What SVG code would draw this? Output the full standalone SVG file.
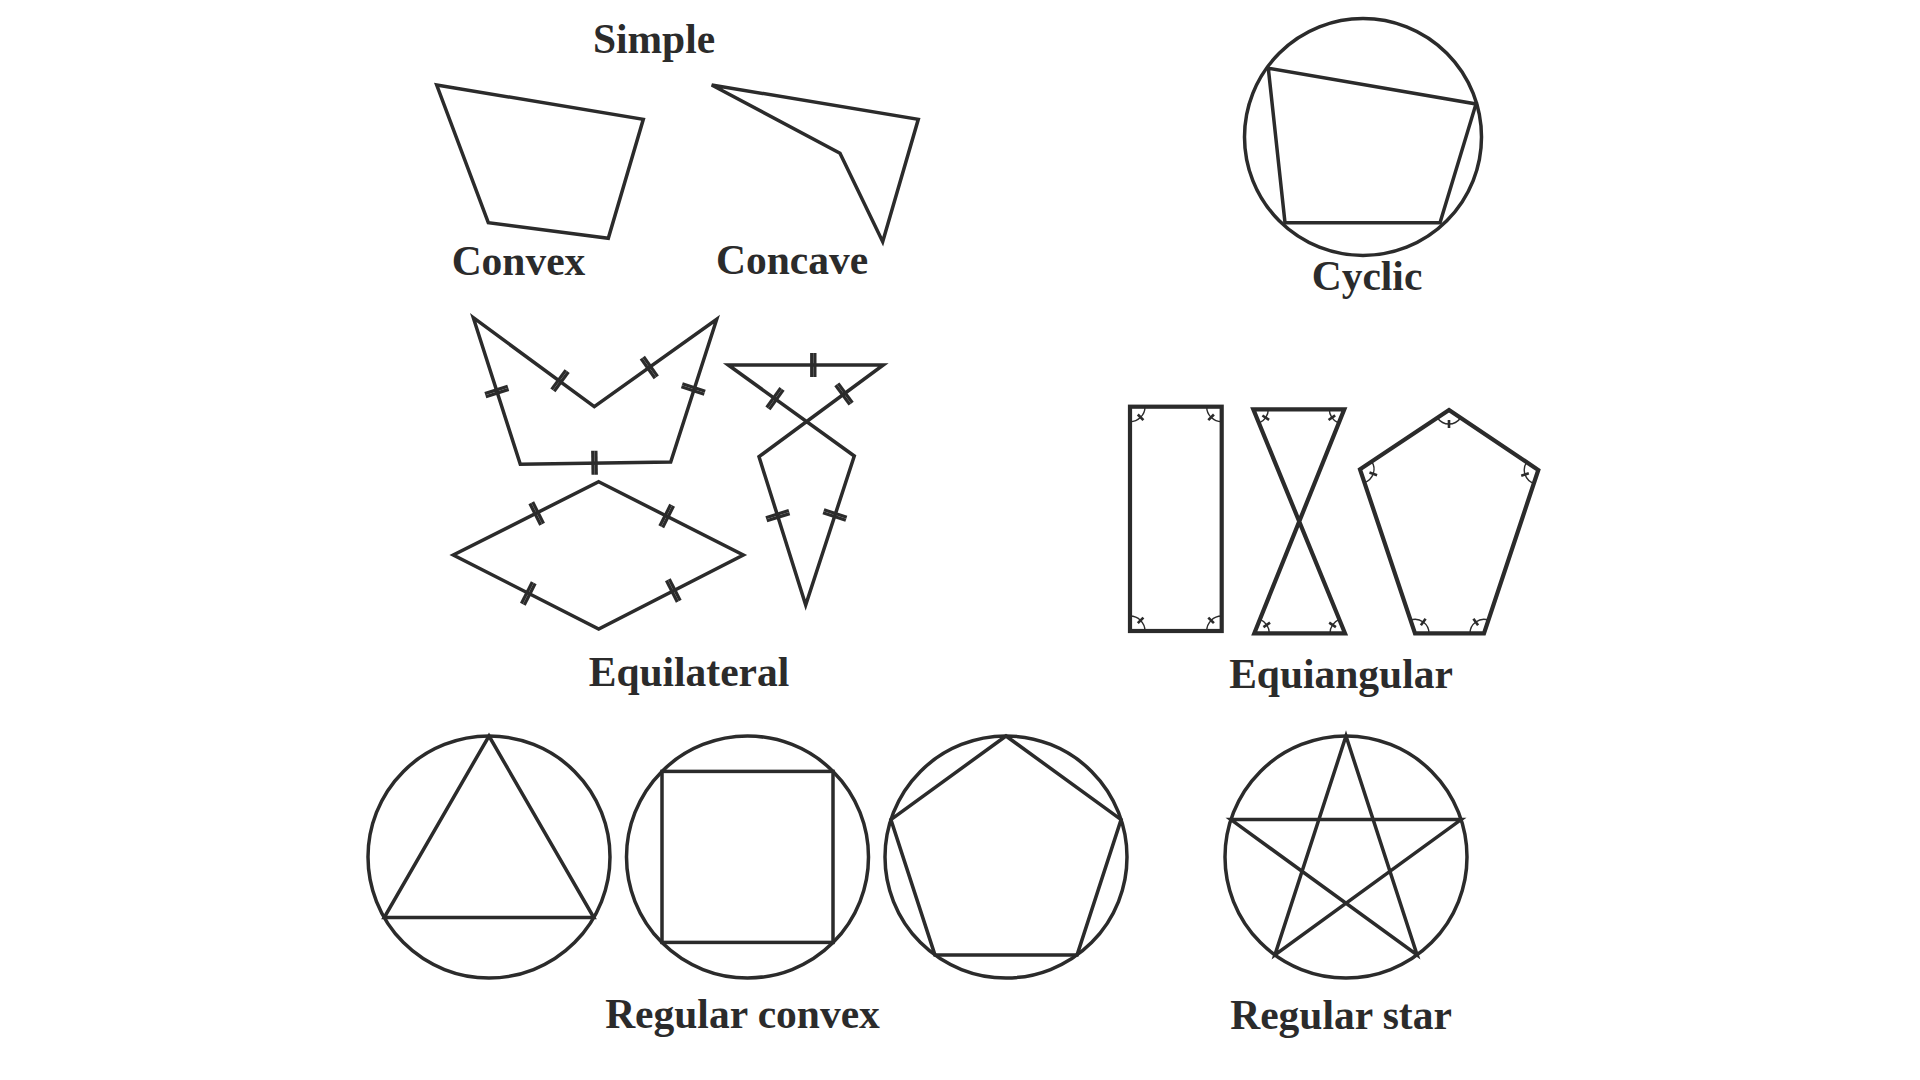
<svg xmlns="http://www.w3.org/2000/svg" xmlns:xlink="http://www.w3.org/1999/xlink" width="1920" height="1080" viewBox="0 0 1920 1080">
<style>
.s{fill:none;stroke:#2b2b2b;stroke-width:3.5;stroke-linejoin:miter}
.t{fill:none;stroke:#2b2b2b;stroke-width:4.2;stroke-linejoin:miter}
.lbl{font-family:"Liberation Serif","Times New Roman",serif;font-weight:bold;font-size:41.5px;fill:#2b2b2b;text-anchor:middle}
.tk{stroke:#2b2b2b;stroke-width:3.2;fill:none}
.am{fill:none;stroke:#2b2b2b;stroke-width:1.4}
.at{fill:none;stroke:#2b2b2b;stroke-width:2.6}
</style>
<defs>
<g id="tick"><line class="tk" x1="-1.6" y1="-12" x2="-1.6" y2="12"/><line class="tk" x1="1.6" y1="-12" x2="1.6" y2="12"/></g>
<g id="m90"><path class="am" d="M15,0 A15,15 0 0 1 0,15"/><line class="at" x1="7.8" y1="7.8" x2="13.4" y2="13.4"/></g>
<g id="m68"><path class="am" d="M15,0 A15,15 0 0 1 5.62,13.91"/><line class="at" x1="9.1" y1="6.2" x2="15.8" y2="10.6"/></g>
<g id="m108"><path class="am" d="M14,0 A14,14 0 0 1 -4.33,13.31"/><line class="at" x1="5.9" y1="8.1" x2="10.6" y2="14.6"/></g>
</defs>
<rect width="1920" height="1080" fill="#ffffff"/>

<g id="label-simple"><text class="lbl" x="654" y="53">Simple</text></g>

<g id="convex">
<polygon class="s" points="436.7,85 643.3,119.3 608.3,238.3 488.3,222.7"/>
<text class="lbl" x="518.5" y="275">Convex</text>
</g>

<g id="concave">
<polygon class="s" points="711.7,85 918.3,119.3 882.7,241.7 840,153.3"/>
<text class="lbl" x="792" y="274">Concave</text>
</g>

<g id="cyclic">
<circle class="s" cx="1363" cy="137" r="118.5"/>
<polygon class="s" points="1268.3,68.3 1476,104 1440,222.7 1285,222.7"/>
<text class="lbl" x="1367" y="290">Cyclic</text>
</g>

<g id="equilateral-hexagon">
<polygon class="s" points="473.3,317.7 594.3,406.7 716.7,319.3 670.7,462 520.3,464.3"/>
<use xlink:href="#tick" href="#tick" transform="translate(560,380.7) rotate(36.3)"/>
<use xlink:href="#tick" href="#tick" transform="translate(649.3,367.5) rotate(-35.5)"/>
<use xlink:href="#tick" href="#tick" transform="translate(693.3,389) rotate(107.9)"/>
<use xlink:href="#tick" href="#tick" transform="translate(496.8,391.5) rotate(72.2)"/>
<use xlink:href="#tick" href="#tick" transform="translate(594.5,462.8) rotate(-0.9)"/>
</g>

<g id="equilateral-rhombus">
<polygon class="s" points="598.7,481.7 743.3,555 598.7,629 453.3,555"/>
<use xlink:href="#tick" href="#tick" transform="translate(536.7,513.5) rotate(-26.8)"/>
<use xlink:href="#tick" href="#tick" transform="translate(666.7,516) rotate(26.9)"/>
<use xlink:href="#tick" href="#tick" transform="translate(528.3,593.5) rotate(27)"/>
<use xlink:href="#tick" href="#tick" transform="translate(673.3,590.5) rotate(-27.1)"/>
</g>

<g id="equilateral-crossed">
<polygon class="s" points="728.3,365 854.3,456 805.7,605 759,456.7 883.3,365"/>
<use xlink:href="#tick" href="#tick" transform="translate(813.3,365) rotate(0)"/>
<use xlink:href="#tick" href="#tick" transform="translate(775,398.7) rotate(35.8)"/>
<use xlink:href="#tick" href="#tick" transform="translate(844,394) rotate(-36.4)"/>
<use xlink:href="#tick" href="#tick" transform="translate(777.8,515.7) rotate(72.5)"/>
<use xlink:href="#tick" href="#tick" transform="translate(834.9,515) rotate(108.1)"/>
</g>

<g id="label-equilateral"><text class="lbl" x="689" y="686">Equilateral</text></g>

<g id="equiangular-rectangle">
<rect class="t" x="1130" y="406.7" width="91.7" height="224.3"/>
<use xlink:href="#m90" href="#m90" transform="translate(1130,406.7)"/>
<use xlink:href="#m90" href="#m90" transform="translate(1221.7,406.7) rotate(90)"/>
<use xlink:href="#m90" href="#m90" transform="translate(1221.7,631) rotate(180)"/>
<use xlink:href="#m90" href="#m90" transform="translate(1130,631) rotate(270)"/>
</g>

<g id="equiangular-bowtie">
<polygon class="t" points="1253.3,409.3 1344.3,409.3 1254.3,633.3 1345,633.3"/>
<use xlink:href="#m68" href="#m68" transform="translate(1253.3,409.3)"/>
<use xlink:href="#m68" href="#m68" transform="translate(1344.3,409.3) rotate(111.9)"/>
<use xlink:href="#m68" href="#m68" transform="translate(1254.3,633.3) rotate(-68)"/>
<use xlink:href="#m68" href="#m68" transform="translate(1345,633.3) rotate(180)"/>
</g>

<g id="equiangular-pentagon">
<polygon class="t" points="1449,410 1538.3,470 1484,633.3 1415,633.3 1360,469.3"/>
<use xlink:href="#m108" href="#m108" transform="translate(1449,410) rotate(36)"/>
<use xlink:href="#m108" href="#m108" transform="translate(1538.3,470) rotate(107.2)"/>
<use xlink:href="#m108" href="#m108" transform="translate(1484,633.3) rotate(180)"/>
<use xlink:href="#m108" href="#m108" transform="translate(1415,633.3) rotate(252)"/>
<use xlink:href="#m108" href="#m108" transform="translate(1360,469.3) rotate(-35.1)"/>
</g>

<g id="label-equiangular"><text class="lbl" x="1341" y="688">Equiangular</text></g>

<g id="regular-triangle">
<circle class="s" cx="489" cy="857" r="121"/>
<polygon class="s" points="489,736 593.8,917.5 384.2,917.5"/>
</g>

<g id="regular-square">
<circle class="s" cx="747.5" cy="857" r="121"/>
<rect class="s" x="662" y="771.4" width="171" height="171"/>
</g>

<g id="regular-pentagon">
<circle class="s" cx="1006" cy="857" r="121"/>
<polygon class="s" points="1006,736 1121.1,819.6 1077.1,954.9 934.9,954.9 890.9,819.6"/>
</g>

<g id="label-regular-convex"><text class="lbl" x="742.5" y="1028">Regular convex</text></g>

<g id="regular-star">
<circle class="s" cx="1346" cy="857" r="121"/>
<polygon class="s" points="1346,736 1417.1,954.9 1230.9,819.6 1461.1,819.6 1274.9,954.9"/>
<text class="lbl" x="1341" y="1029">Regular star</text>
</g>
</svg>
